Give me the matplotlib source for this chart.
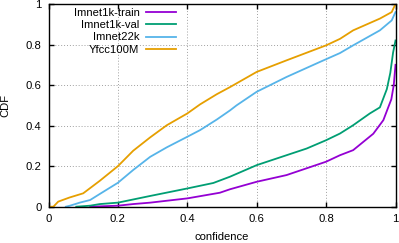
import matplotlib
matplotlib.use("Agg")
import matplotlib.pyplot as plt

plt.rcParams['font.family'] = ['Liberation Sans', 'DejaVu Sans']

# ---- data ----
series_names = ["Imnet1k-train", "Imnet1k-val", "Imnet22k", "Yfcc100M"]
series_colors = ["#9400D3", "#009E73", "#56B4E9", "#E69F00"]

train_x = [0.12, 0.2, 0.244, 0.293, 0.4, 0.494, 0.523, 0.6, 0.686, 0.8, 0.84,
           0.878, 0.936, 0.965, 0.979, 0.988, 0.995, 1.0]
train_y = [0.0, 0.005, 0.013, 0.02, 0.041, 0.069, 0.086, 0.123, 0.156, 0.222, 0.254,
           0.279, 0.36, 0.427, 0.49, 0.53, 0.6, 0.7]

val_x = [0.08, 0.12, 0.148, 0.2, 0.293, 0.4, 0.475, 0.523, 0.6, 0.686, 0.744,
         0.8, 0.84, 0.878, 0.926, 0.955, 0.975, 0.985, 0.993, 1.0]
val_y = [0.0, 0.005, 0.013, 0.02, 0.053, 0.09, 0.117, 0.148, 0.205, 0.254, 0.287,
         0.328, 0.361, 0.402, 0.46, 0.49, 0.58, 0.66, 0.76, 0.82]

i22k_x = [0.05, 0.062, 0.09, 0.12, 0.148, 0.2, 0.244, 0.293, 0.341, 0.4, 0.437, 0.485,
          0.523, 0.542, 0.6, 0.686, 0.782, 0.84, 0.878, 0.955, 0.989, 1.0]
i22k_y = [0.0, 0.005, 0.02, 0.033, 0.063, 0.118, 0.181, 0.246, 0.293, 0.345, 0.378, 0.43,
          0.475, 0.5, 0.567, 0.64, 0.714, 0.758, 0.796, 0.87, 0.919, 0.96]

yfcc_x = [0.0, 0.014, 0.028, 0.06, 0.10, 0.148, 0.2, 0.244, 0.293, 0.341, 0.4, 0.437,
          0.485, 0.523, 0.6, 0.686, 0.8, 0.84, 0.878, 0.955, 0.989, 1.0]
yfcc_y = [0.0, 0.0, 0.025, 0.045, 0.066, 0.128, 0.2, 0.276, 0.342, 0.402, 0.46, 0.505,
          0.555, 0.59, 0.665, 0.722, 0.796, 0.828, 0.87, 0.928, 0.96, 1.0]

tick_values = [0, 0.2, 0.4, 0.6, 0.8, 1]
tick_labels = ["0", "0.2", "0.4", "0.6", "0.8", "1"]

# ---- figure ----
fig = plt.figure(figsize=(3.99, 2.43), dpi=100)
ax = fig.add_axes([48.5 / 399, 1 - 206.7 / 243, 347 / 399, 202.7 / 243])

xs = [train_x, val_x, i22k_x, yfcc_x]
ys = [train_y, val_y, i22k_y, yfcc_y]
for x, y, name, c in zip(xs, ys, series_names, series_colors):
    ax.plot(x, y, color=c, lw=1.3, label=name, solid_joinstyle='round', zorder=3)

ax.set_xlim(0, 1)
ax.set_ylim(0, 1)
ax.set_xticks(tick_values)
ax.set_xticklabels(tick_labels)
ax.set_yticks(tick_values)
ax.set_yticklabels(tick_labels)

FS = 8.1
ax.tick_params(direction='in', length=3.5, width=1.0, top=True, right=True,
               labelsize=FS, color='black')
ax.tick_params(axis='x', pad=5.0)
ax.tick_params(axis='y', pad=5.0)
for s in ax.spines.values():
    s.set_linewidth(1.0)
    s.set_zorder(4)

ax.grid(True, color='#a0a0a0', linestyle=(0, (1, 2)), linewidth=0.7, zorder=0)

ax.set_xlabel("confidence", fontsize=FS, va='center')
ax.xaxis.set_label_coords(0.5, (206.7 - 237.0) / 202.7)
ax.set_ylabel("CDF", fontsize=FS, va='center')
ax.yaxis.set_label_coords((5.5 - 48.5) / 347, 0.5)

leg = ax.legend(loc='upper right', bbox_to_anchor=((176 - 48.5) / 347, (206.7 - 8.0) / 202.7),
                frameon=False, markerfirst=False, fontsize=FS, borderpad=0,
                borderaxespad=0, handlelength=2.7, handletextpad=0.55, labelspacing=0.2)

fig.savefig("out.png", dpi=100)
